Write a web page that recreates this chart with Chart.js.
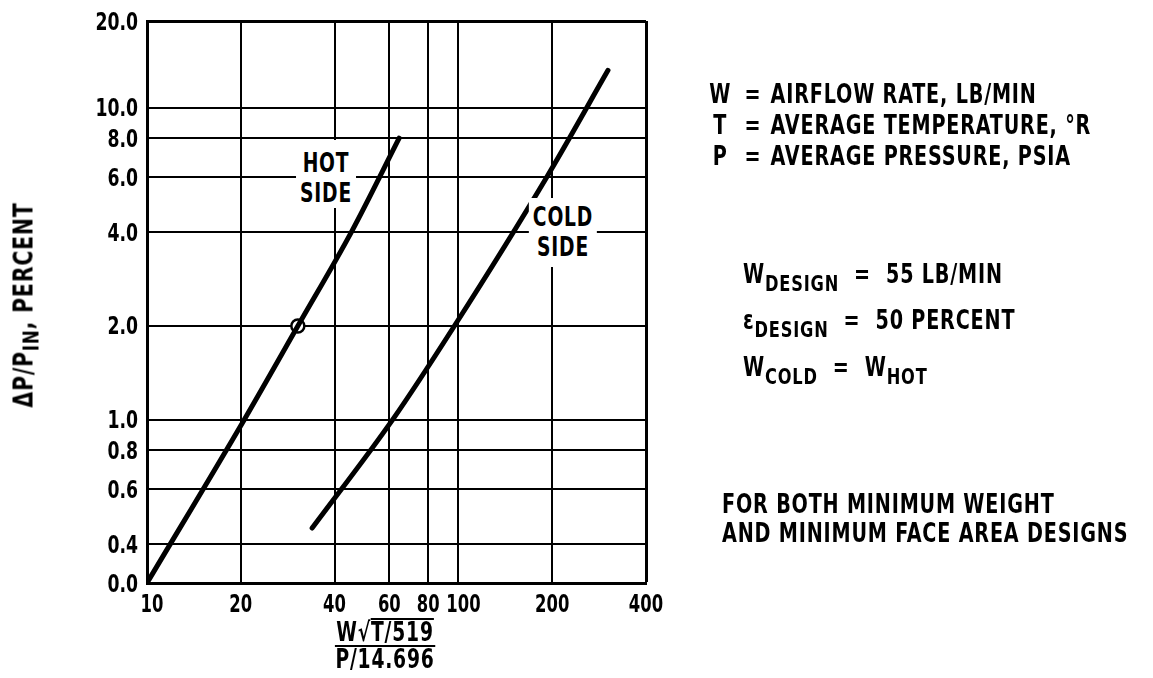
<!DOCTYPE html>
<html>
<head>
<meta charset="utf-8">
<script src="https://cdn.jsdelivr.net/npm/chart.js"></script>
<style>
  body { margin: 0; background: #fff; }
  #wrap {
    position: relative; width: 1153px; height: 678px; overflow: hidden;
    font-family: "DejaVu Sans Condensed", "DejaVu Sans", sans-serif;
    font-weight: bold; color: #000;
  }
  canvas { position: absolute; left: 0; top: 0; }
  /* narrow lettering: condensed font squeezed a bit more */
  .t { position: absolute; white-space: nowrap; font-size: 26px; line-height: 26px; letter-spacing: 1px;
       transform: scaleX(0.82); transform-origin: 0 0; }
  .v { display: inline-block; width: 37px; text-align: center; }
  .eq { display: inline-block; width: 43px; text-align: center; }
  .sub { font-size: 22px; position: relative; top: 8px; }
  .lbl { position: absolute; background: #fff; text-align: center; font-size: 26px; line-height: 30px;
         letter-spacing: 1px; padding: 0 5px; transform: translateX(-50%) scaleX(0.8); }
  #ytitle { position: absolute; left: 24px; top: 305px; transform: translate(-50%, -50%) rotate(-90deg) scaleX(0.84);
            white-space: nowrap; font-size: 27px; line-height: 27px; letter-spacing: 1px; }
  #xtitle { position: absolute; left: 385px; top: 618px; transform: translateX(-50%) scaleX(0.8);
            font-size: 26px; line-height: 24px; letter-spacing: 1px; text-align: center; white-space: nowrap; }
  #xtitle .num { border-bottom: 2px solid #000; padding: 0 2px 1px; }
  #xtitle .ov { display: inline-block; line-height: 20px; padding-top: 2px; border-top: 2px solid #000; }
</style>
</head>
<body>
<div id="wrap">
  <canvas id="chart" width="1153" height="678"></canvas>

  <div class="lbl" style="left:326px; top:140px; padding-top:8px;">HOT<br>SIDE</div>
  <div class="lbl" style="left:563px; top:198px; padding-top:4px; padding-bottom:5px;">COLD<br>SIDE</div>

  <div id="ytitle">ΔP/P<span class="sub" style="top:6px">IN</span>, PERCENT</div>
  <div id="xtitle">
    <div class="num">W<span>√</span><span class="ov">T/519</span></div>
    <div class="den">P/14.696</div>
  </div>

  <div class="t" style="left:705px; top:81px;"><span class="v">W</span><span class="eq">=</span>AIRFLOW RATE, LB/MIN</div>
  <div class="t" style="left:705px; top:112px;"><span class="v">T</span><span class="eq">=</span>AVERAGE TEMPERATURE, °R</div>
  <div class="t" style="left:705px; top:143px;"><span class="v">P</span><span class="eq">=</span>AVERAGE PRESSURE, PSIA</div>

  <div class="t" style="left:743px; top:261px;">W<span class="sub">DESIGN</span> &nbsp;= &nbsp;55 LB/MIN</div>
  <div class="t" style="left:743px; top:307px;">ε<span class="sub">DESIGN</span> &nbsp;= &nbsp;50 PERCENT</div>
  <div class="t" style="left:743px; top:354px;">W<span class="sub">COLD</span> &nbsp;= &nbsp;W<span class="sub">HOT</span></div>

  <div class="t" style="left:722px; top:491px;">FOR BOTH MINIMUM WEIGHT</div>
  <div class="t" style="left:722px; top:520px;">AND MINIMUM FACE AREA DESIGNS</div>
</div>

<script>
// Data
const hotX = [10, 20.5, 30.5, 45.3, 64.5];
const hotY = [0.3, 1.0, 2.0, 4.0, 8.0];
const coldX = [33.9, 61.4, 97, 192, 302];
const coldY = [0.45, 1.0, 2.0, 6.0, 13.2];
const markerX = [30.5];
const markerY = [2.0];

const xTicks = [10, 20, 40, 60, 80, 100, 200, 400];
const xTickLabels = ["10", "20", "40", "60", "80", "100", "200", "400"];
// the frame edges carry the labels 0.0 and 20.0
const yTicks = [0.3, 0.4, 0.6, 0.8, 1, 2, 4, 6, 8, 10, 19];
const yTickLabels = ["0.0", "0.4", "0.6", "0.8", "1.0", "2.0", "4.0", "6.0", "8.0", "10.0", "20.0"];

const toPoints = (xs, ys) => xs.map((x, i) => ({ x: x, y: ys[i] }));

const FONT = '"DejaVu Sans Condensed", "DejaVu Sans", sans-serif';

// Tick labels, squeezed horizontally to look like the narrow lettering
const tickLabels = {
  id: "tickLabels",
  afterDraw(chart) {
    const ctx = chart.ctx;
    const xs = chart.scales.x;
    const ys = chart.scales.y;
    ctx.save();
    ctx.fillStyle = "#000";
    ctx.font = "bold 24px " + FONT;
    ctx.textBaseline = "alphabetic";

    ctx.textAlign = "right";
    yTicks.forEach((v, i) => {
      ctx.save();
      ctx.translate(ys.right - 9, ys.getPixelForValue(v) + 8.5);
      ctx.scale(0.8, 1);
      ctx.fillText(yTickLabels[i], 0, 0);
      ctx.restore();
    });

    ctx.textAlign = "center";
    xTicks.forEach((v, i) => {
      const label = xTickLabels[i];
      // the narrow "1" leaves these labels sitting a little right of the line
      const nudge = label[0] === "1" ? 5 : 0;
      ctx.save();
      ctx.translate(xs.getPixelForValue(v) + nudge, xs.top + 29);
      ctx.scale(0.76, 1);
      ctx.fillText(label, 0, 0);
      ctx.restore();
    });
    ctx.restore();
  },
};

const lineStyle = {
  borderColor: "#000",
  borderWidth: 5,
  pointRadius: 0,
  borderCapStyle: "round",
  cubicInterpolationMode: "monotone",
  fill: false,
};

const chart = new Chart(document.getElementById("chart"), {
  type: "line",
  data: {
    datasets: [
      { label: "Hot side", data: toPoints(hotX, hotY), ...lineStyle },
      { label: "Cold side", data: toPoints(coldX, coldY), ...lineStyle },
      {
        label: "Design point",
        data: toPoints(markerX, markerY),
        showLine: false,
        pointRadius: 6.5,
        pointBorderWidth: 2.5,
        pointBorderColor: "#000",
        pointBackgroundColor: "#fff",
      },
    ],
  },
  options: {
    responsive: false,
    animation: false,
    layout: { padding: { left: 0, right: 507, top: 21, bottom: 0 } },
    plugins: { legend: { display: false }, tooltip: { enabled: false } },
    scales: {
      x: {
        type: "logarithmic",
        min: 10,
        max: 400,
        afterBuildTicks: (scale) => { scale.ticks = xTicks.map((v) => ({ value: v })); },
        afterFit: (scale) => { scale.height = 95; },
        ticks: { display: false },
        grid: {
          color: "#000",
          lineWidth: (ctx) => (ctx.tick && ctx.tick.value === 400 ? 3 : 2),
          drawTicks: false,
        },
        border: { display: true, color: "#000", width: 3 },
      },
      y: {
        type: "logarithmic",
        min: 0.3,
        max: 19,
        afterBuildTicks: (scale) => { scale.ticks = yTicks.map((v) => ({ value: v })); },
        afterFit: (scale) => { scale.width = 147; },
        ticks: { display: false },
        grid: {
          color: "#000",
          lineWidth: (ctx) => (ctx.tick && ctx.tick.value === 19 ? 3 : 2),
          drawTicks: false,
        },
        border: { display: true, color: "#000", width: 3 },
      },
    },
  },
  plugins: [tickLabels],
});
</script>
</body>
</html>
